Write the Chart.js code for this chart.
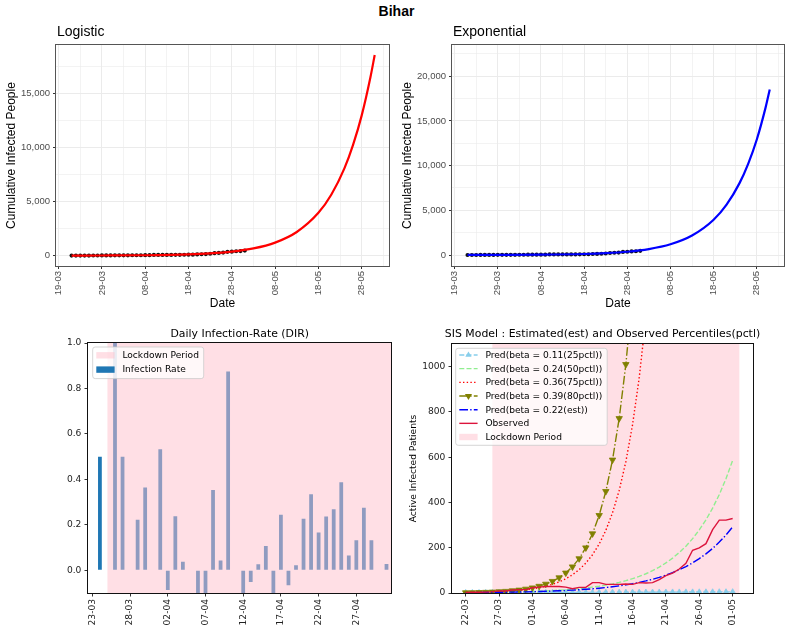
<!DOCTYPE html>
<html>
<head>
<meta charset="utf-8">
<script src="https://cdn.jsdelivr.net/npm/chart.js@4.4.0/dist/chart.umd.min.js"></script>
<style>
  html, body { margin: 0; padding: 0; background: #fff; }
  #wrap { position: relative; width: 793px; height: 634px; overflow: hidden; background: #fff; }
  #wrap canvas { position: absolute; }
  #main { position: absolute; left: 0; top: 3px; width: 793px; text-align: center;
          font: bold 14px/16px "Liberation Sans", Arial, sans-serif; color: #000; }
</style>
</head>
<body>
<div id="wrap">
  <div id="main">Bihar</div>
  <canvas id="logi" width="397" height="292" style="left:0;top:20px"></canvas>
  <canvas id="expo" width="397" height="292" style="left:396px;top:20px"></canvas>
  <canvas id="dir"  width="397" height="314" style="left:0;top:320px"></canvas>
  <canvas id="sis"  width="397" height="314" style="left:396px;top:320px"></canvas>
</div>
<script>
/* ---- data ---- */
const obsDates = ['22-03','23-03','24-03','25-03','26-03','27-03','28-03','29-03','30-03','31-03',
  '01-04','02-04','03-04','04-04','05-04','06-04','07-04','08-04','09-04','10-04',
  '11-04','12-04','13-04','14-04','15-04','16-04','17-04','18-04','19-04','20-04',
  '21-04','22-04','23-04','24-04','25-04','26-04','27-04','28-04','29-04','30-04','01-05'];

// cumulative infected (top panels, black dots)
const obsCumulative = [2,3,3,4,6,9,11,15,15,15,
  23,24,29,30,32,32,32,38,39,60,
  64,64,65,66,70,70,80,83,86,113,
  126,143,170,223,251,277,346,366,403,418,466];

// fitted curves, read at these dates
const fitDates = ['22-03','29-03','08-04','18-04','23-04','28-04','03-05','08-05',
  '13-05','18-05','21-05','24-05','26-05','28-05','30-05','31-05'];
const logisticFit    = [4,10,34,111,201,365,662,1200,2180,3950,5640,8050,10220,12950,16450,18530];
const exponentialFit = [4,10,33,110,200,362,660,1195,2175,3940,5630,8040,10200,12920,16430,18520];

const fitOrigin = '19-03';
const fitTicks = ['19-03','29-03','08-04','18-04','28-04','08-05','18-05','28-05'];
const logiYTicks = [0,5000,10000,15000];
const expoYTicks = [0,5000,10000,15000,20000];

// daily infection rate
const dirOrigin = '23-03';
const dirDates = obsDates.slice(2);            // 24-03 .. 01-05
const dirRate = [0.5,0,1.0,0.5,0,0.222,0.364,0,0.533,-0.087,
  0.238,0.038,0,-0.15,-0.12,0.353,0.043,0.875,0,-0.12,
  -0.052,0.027,0.107,-0.11,0.244,-0.066,0.022,0.227,0.334,0.166,
  0.237,0.269,0.387,0.065,0.132,0.275,0.132,0,0.028];
const dirTicks = ['23-03','28-03','02-04','07-04','12-04','17-04','22-04','27-04'];
const dirYTicks = [0,0.2,0.4,0.6,0.8,1.0];
const dirLockdown = ['25-03','05-05'];

// SIS model, active infected
const sisOrigin = '22-03';
const sisTicks = ['22-03','27-03','01-04','06-04','11-04','16-04','21-04','26-04','01-05'];
const sisYTicks = [0,200,400,600,800,1000];
const sisLockdown = ['26-03','02-05'];
const pred25 = [1.6,1.6,1.6,1.7,1.7,1.8,1.9,1.9,2.0,2.0,2.1,2.1,2.2,2.3,2.3,2.4,2.5,2.6,2.6,2.7,
  2.8,2.9,3.0,3.1,3.1,3.2,3.3,3.4,3.5,3.7,3.8,3.9,4.0,4.1,4.2,4.4,4.5,4.6,4.8,4.9,5.1];
const pred50 = [1.6,1.8,2.1,2.4,2.8,3.3,3.8,4.4,5.1,5.9,6.8,7.9,9.2,10.7,12.4,14.3,16.6,19.3,22.4,26.0,
  30.1,34.9,40.5,47.0,54.5,63.2,73.3,85.1,98.7,114,133,154,179,207,240,279,323,375,435,505,586];
const pred75 = [1.6,2.0,2.5,3.3,4.2,5.3,6.8,8.7,11.2,14.3,18.3,23.4,30.0,38.4,49.1,62.9,80.5,103,132,169,
  216,277,354,453,580,743,951,1217,1558];
const pred80 = [1.6,2.0,2.7,3.5,4.6,6.0,7.8,10.3,13.4,17.6,23.0,30.2,39.5,51.8,67.8,88.8,116,152,200,262,
  343,449,588,771,1010,1323,1733];
const predEst = [1.6,1.8,2.0,2.3,2.6,3.0,3.4,3.9,4.4,5.0,5.8,6.6,7.5,8.5,9.7,11.1,12.6,14.4,16.4,18.7,
  21.3,24.3,27.7,31.5,36.0,41.0,46.7,53.3,60.7,69.2,78.9,90.0,103,117,133,152,173,197,225,256,292];
const sisObserved = [2,3,3,4,6,9,9,13,15,15,23,26,29,29,29,26,19,25,25,46,
  46,38,38,38,40,38,46,44,46,59,77,88,106,131,189,199,218,280,322,322,329];

/* ---- helpers ---- */
const GG = '"Liberation Sans", Arial, sans-serif';
const MPL = '"DejaVu Sans", sans-serif';
const PINK = 'rgba(255,192,203,0.5)';

function dayOf(s, origin) {
  const [d, m] = s.split('-').map(Number);
  const [d0, m0] = origin.split('-').map(Number);
  return Math.round((Date.UTC(2020, m - 1, d) - Date.UTC(2020, m0 - 1, d0)) / 864e5);
}
const pts = (dates, vals, origin) => vals.map((v, i) => ({ x: dayOf(dates[i], origin), y: v }));
const labelMap = (ticks, origin) => new Map(ticks.map(s => [dayOf(s, origin), s]));

function roundRect(ctx, x, y, w, h, r) {
  ctx.beginPath();
  ctx.moveTo(x + r, y); ctx.lineTo(x + w - r, y); ctx.quadraticCurveTo(x + w, y, x + w, y + r);
  ctx.lineTo(x + w, y + h - r); ctx.quadraticCurveTo(x + w, y + h, x + w - r, y + h);
  ctx.lineTo(x + r, y + h); ctx.quadraticCurveTo(x, y + h, x, y + h - r);
  ctx.lineTo(x, y + r); ctx.quadraticCurveTo(x, y, x + r, y);
  ctx.closePath();
}
function tri(ctx, x, y, r, down, color) {
  const s = down ? -1 : 1;
  ctx.beginPath();
  ctx.moveTo(x, y - s * r);
  ctx.lineTo(x + r * 0.866, y + s * r * 0.5);
  ctx.lineTo(x - r * 0.866, y + s * r * 0.5);
  ctx.closePath();
  ctx.fillStyle = color; ctx.fill();
}

function drawSpan(chart, sp) {
  const { ctx, chartArea: a, scales: { x } } = chart;
  const x0 = Math.max(a.left, x.getPixelForValue(sp.from));
  const x1 = Math.min(a.right, x.getPixelForValue(sp.to));
  ctx.save();
  ctx.fillStyle = PINK;
  ctx.fillRect(x0, a.top, x1 - x0, a.bottom - a.top);
  ctx.restore();
}

function drawLegend(chart, L) {
  const { ctx, chartArea: a } = chart;
  const bx = a.left + L.dx, by = a.top + L.dy;
  ctx.save();
  roundRect(ctx, bx, by, L.w, L.h, 2.5);
  ctx.fillStyle = 'rgba(255,255,255,0.8)'; ctx.fill();
  ctx.strokeStyle = '#cccccc'; ctx.lineWidth = 0.8; ctx.stroke();
  ctx.font = '9.1px ' + MPL; ctx.textBaseline = 'middle'; ctx.textAlign = 'left';
  L.items.forEach((it, i) => {
    const cy = by + L.first + i * L.step, hx = bx + 3.6, hw = 18.3;
    if (it.patch) {
      ctx.fillStyle = it.patch; ctx.fillRect(hx, cy - 3.2, hw, 6.4);
    } else {
      ctx.strokeStyle = it.color; ctx.lineWidth = it.lw; ctx.setLineDash(it.dash || []);
      ctx.beginPath(); ctx.moveTo(hx, cy); ctx.lineTo(hx + hw, cy); ctx.stroke();
      ctx.setLineDash([]);
      if (it.marker) tri(ctx, hx + hw / 2, cy, it.r + 0.4, it.marker === 'down', it.color);
    }
    ctx.fillStyle = '#000';
    ctx.fillText(it.label, bx + 29.7, cy + 0.5);
  });
  ctx.restore();
}

// frame, panel title, shaded span and inset legend
function decor(cfg) {
  return {
    id: 'decor',
    beforeDatasetsDraw(chart) { if (cfg.span && !cfg.span.over) drawSpan(chart, cfg.span); },
    afterDatasetsDraw(chart) { if (cfg.span && cfg.span.over) drawSpan(chart, cfg.span); },
    afterDraw(chart) {
      const { ctx, chartArea: a } = chart;
      if (cfg.legend) drawLegend(chart, cfg.legend);
      ctx.save();
      ctx.strokeStyle = cfg.frame; ctx.lineWidth = 1;
      ctx.strokeRect(Math.round(a.left) - 0.5, Math.round(a.top) - 0.5,
                     Math.round(a.right - a.left) + 1, Math.round(a.bottom - a.top) + 1);
      const t = cfg.title;
      ctx.font = t.font; ctx.fillStyle = '#000'; ctx.textBaseline = 'middle';
      if (t.center) { ctx.textAlign = 'center'; ctx.fillText(t.text, (a.left + a.right) / 2, a.top - t.dy); }
      else { ctx.textAlign = 'left'; ctx.fillText(t.text, a.left + 1, a.top - t.dy); }
      ctx.restore();
    }
  };
}

/* ---- top row: ggplot style ---- */
function ggChart(id, color, fit, yTicks, yMin, yMax, titleText, yTitlePad) {
  const labs = labelMap(fitTicks, fitOrigin);
  const xAll = [0,5,10,15,20,25,30,35,40,45,50,55,60,65,70,75];
  const yStep = (yTicks[1] - yTicks[0]) / 2;
  const yAll = [];
  for (let v = 0; v <= yMax; v += yStep) yAll.push(v);
  const isMajX = v => labs.has(v);
  const isMajY = v => yTicks.includes(v);
  const tickFont = { family: GG, size: 9.5 };

  return new Chart(document.getElementById(id), {
    type: 'line',
    data: {
      datasets: [
        { data: pts(fitDates, fit, fitOrigin), borderColor: color, borderWidth: 2.2,
          pointRadius: 0, cubicInterpolationMode: 'monotone', order: 1 },
        { data: pts(obsDates, obsCumulative, fitOrigin), showLine: false,
          pointRadius: 2.1, pointBackgroundColor: '#111', pointBorderWidth: 0, order: 2 }
      ]
    },
    options: {
      responsive: false, animation: false, devicePixelRatio: 1, events: [],
      layout: { padding: { left: 0, right: id === 'logi' ? 8 : 9, top: 25, bottom: 0 } },
      plugins: { legend: { display: false }, tooltip: { enabled: false } },
      scales: {
        x: {
          type: 'linear', min: -0.6, max: 76.3,
          afterBuildTicks: s => { s.ticks = xAll.map(v => ({ value: v })); },
          afterFit: s => { s.height = 46; s.paddingLeft = 0; s.paddingRight = 0; },
          border: { display: false },
          grid: {
            color: '#ebebeb',
            lineWidth: c => (c.tick && isMajX(c.tick.value)) ? 1 : 0.6,
            tickLength: 3, tickWidth: 1,
            tickColor: c => (c.tick && isMajX(c.tick.value)) ? '#333' : 'rgba(0,0,0,0)'
          },
          ticks: { autoSkip: false, minRotation: 90, maxRotation: 90, padding: 2,
                   color: '#4d4d4d', font: tickFont, callback: v => labs.get(v) || '' },
          title: { display: true, text: 'Date', color: '#000', font: { family: GG, size: 12 },
                   padding: { top: 0, bottom: 1 } }
        },
        y: {
          min: yMin, max: yMax,
          afterBuildTicks: s => { s.ticks = yAll.map(v => ({ value: v })); },
          afterFit: s => { s.width = 56; s.paddingTop = 0; s.paddingBottom = 0; },
          border: { display: false },
          grid: {
            color: '#ebebeb',
            lineWidth: c => (c.tick && isMajY(c.tick.value)) ? 1 : 0.6,
            tickLength: 3, tickWidth: 1,
            tickColor: c => (c.tick && isMajY(c.tick.value)) ? '#333' : 'rgba(0,0,0,0)'
          },
          ticks: { autoSkip: false, padding: 3, color: '#4d4d4d', font: tickFont,
                   callback: v => isMajY(v) ? v.toLocaleString('en-US') : '' },
          title: { display: true, text: 'Cumulative Infected People', color: '#000',
                   font: { family: GG, size: 12 }, padding: { top: yTitlePad, bottom: 0 } }
        }
      }
    },
    plugins: [decor({ frame: '#555', title: { text: titleText, font: '14px ' + GG, dy: 13 } })]
  });
}

ggChart('logi', '#ff0000', logisticFit, logiYTicks, -960, 19450, 'Logistic', 4.8);
ggChart('expo', '#0000ff', exponentialFit, expoYTicks, -1230, 23490, 'Exponential', 4.1);

/* ---- bottom row: matplotlib style ---- */
function mplX(ticks, origin, min, max) {
  const labs = labelMap(ticks, origin);
  return {
    type: 'linear', min, max, offset: false,
    afterBuildTicks: s => { s.ticks = [...labs.keys()].map(v => ({ value: v })); },
    afterFit: s => { s.height = 41; s.paddingLeft = 0; s.paddingRight = 0; },
    border: { display: false },
    grid: { offset: false, drawOnChartArea: false, drawTicks: true, tickLength: 3.5,
            tickColor: '#000', tickWidth: 0.8 },
    ticks: { autoSkip: false, minRotation: 90, maxRotation: 90, padding: 2.5,
             color: '#222', font: { family: MPL, size: 9.1 }, callback: v => labs.get(v) || '' }
  };
}
function mplY(ticks, min, max, width, fmt) {
  return {
    min, max,
    afterBuildTicks: s => { s.ticks = ticks.map(v => ({ value: v })); },
    afterFit: s => { s.width = width; s.paddingTop = 0; s.paddingBottom = 0; },
    border: { display: false },
    grid: { drawOnChartArea: false, drawTicks: true, tickLength: 3.5, tickColor: '#000', tickWidth: 0.8 },
    ticks: { autoSkip: false, padding: 3.1, color: '#222', font: { family: MPL, size: 9.1 }, callback: fmt }
  };
}

new Chart(document.getElementById('dir'), {
  type: 'bar',
  data: {
    datasets: [{ data: pts(dirDates, dirRate, dirOrigin), backgroundColor: '#1f77b4',
                 borderWidth: 0, barPercentage: 0.5, categoryPercentage: 1.0 }]
  },
  options: {
    responsive: false, animation: false, devicePixelRatio: 1, events: [],
    layout: { padding: { left: 0, right: 5.6, top: 23, bottom: 0 } },
    plugins: { legend: { display: false }, tooltip: { enabled: false } },
    scales: {
      x: mplX(dirTicks, dirOrigin, -0.58, 39.65),
      y: mplY(dirYTicks, -0.1, 1.0, 88, v => v.toFixed(1))
    }
  },
  plugins: [decor({
    frame: '#111',
    span: { from: dayOf(dirLockdown[0], dirOrigin), to: dayOf(dirLockdown[1], dirOrigin), over: true },
    title: { text: 'Daily Infection-Rate (DIR)', font: '10.9px ' + MPL, dy: 8.7, center: true },
    legend: { dx: 4.7, dy: 4, w: 111, h: 31.6, first: 8.3, step: 14.3,
              items: [{ label: 'Lockdown Period', patch: PINK }, { label: 'Infection Rate', patch: '#1f77b4' }] }
  })]
});

const sisStyles = [
  { label: 'Pred(beta = 0.11(25pctl))', data: pred25, color: 'skyblue', dash: [5, 2.2], lw: 1.4, marker: 'up', r: 3.2, order: 6 },
  { label: 'Pred(beta = 0.24(50pctl))', data: pred50, color: 'lightgreen', dash: [5, 2.2], lw: 1.4, order: 5 },
  { label: 'Pred(beta = 0.36(75pctl))', data: pred75, color: 'red', dash: [1.4, 2.3], lw: 1.4, order: 4 },
  { label: 'Pred(beta = 0.39(80pctl))', data: pred80, color: 'olive', dash: [8.7, 2.2, 1.4, 2.2], lw: 1.4, marker: 'down', r: 3.7, order: 3 },
  { label: 'Pred(beta = 0.22(est))', data: predEst, color: 'blue', dash: [8.7, 2.2, 1.4, 2.2], lw: 1.4, order: 2 },
  { label: 'Observed', data: sisObserved, color: 'crimson', dash: [], lw: 1.4, order: 1 }
];

new Chart(document.getElementById('sis'), {
  type: 'line',
  data: {
    datasets: sisStyles.map(s => ({
      data: pts(obsDates, s.data, sisOrigin), borderColor: s.color, borderWidth: s.lw,
      borderDash: s.dash, tension: 0, order: s.order,
      pointRadius: s.marker ? s.r : 0, pointStyle: 'triangle',
      pointRotation: s.marker === 'down' ? 180 : 0,
      pointBackgroundColor: s.color, pointBorderColor: s.color, pointBorderWidth: 0.8
    }))
  },
  options: {
    responsive: false, animation: false, devicePixelRatio: 1, events: [],
    layout: { padding: { left: 0, right: 40, top: 24, bottom: 0 } },
    plugins: { legend: { display: false }, tooltip: { enabled: false } },
    scales: {
      x: mplX(sisTicks, sisOrigin, -2.05, 43.05),
      y: Object.assign(mplY(sisYTicks, 0, 1100, 56, v => String(v)), {
        title: { display: true, text: 'Active Infected Patients', color: '#000',
                 font: { family: MPL, size: 9.1 }, padding: { top: 11.8, bottom: 0 } }
      })
    }
  },
  plugins: [decor({
    frame: '#111',
    span: { from: dayOf(sisLockdown[0], sisOrigin), to: dayOf(sisLockdown[1], sisOrigin), over: false },
    title: { text: 'SIS Model : Estimated(est) and Observed Percentiles(pctl)', font: '10.9px ' + MPL, dy: 9.7, center: true },
    legend: { dx: 3.7, dy: 4.3, w: 151.5, h: 97, first: 6.7, step: 13.67,
              items: sisStyles.map(s => ({ label: s.label, color: s.color, dash: s.dash, lw: s.lw, marker: s.marker, r: s.r }))
                      .concat([{ label: 'Lockdown Period', patch: PINK }]) }
  })]
});
</script>
</body>
</html>
